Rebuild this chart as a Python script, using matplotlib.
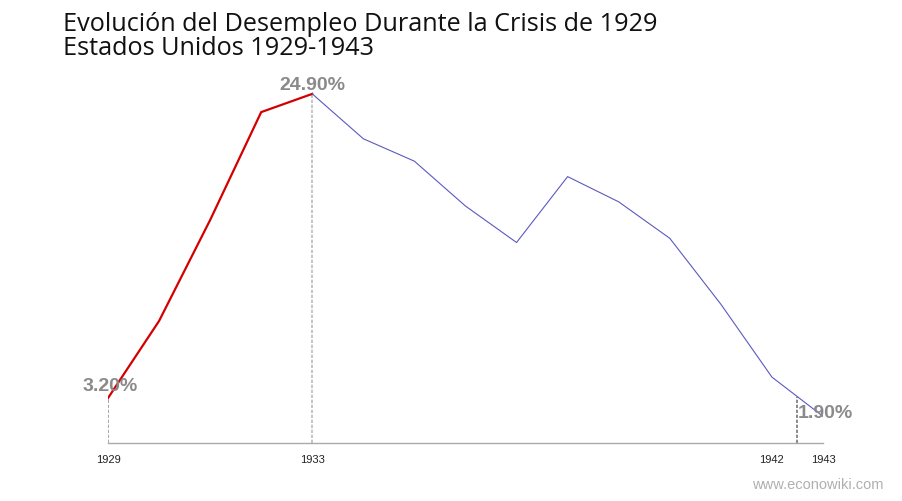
import matplotlib
matplotlib.use("Agg")
import matplotlib.pyplot as plt
import numpy as np

# Datos: tasa de desempleo en EE.UU. (%)
years = [1929, 1930, 1931, 1932, 1933, 1934, 1935, 1936,
         1937, 1938, 1939, 1940, 1941, 1942, 1943]
unemployment = [3.2, 8.7, 15.9, 23.6, 24.9, 21.7, 20.1, 16.9,
                14.3, 19.0, 17.2, 14.6, 9.9, 4.7, 1.9]
tick_years = [1929, 1933, 1942, 1943]
crisis_end = 1933
title_lines = ["Evolución del Desempleo Durante la Crisis de 1929",
               "Estados Unidos 1929-1943"]

plt.rcParams['font.family'] = ['Liberation Sans', 'DejaVu Sans']

fig = plt.figure(figsize=(9.02, 5.01), dpi=100)
ax = fig.add_axes([0.1197, 0.1158, 0.7927, 0.6996])

years_a = np.array(years)
vals_a = np.array(unemployment)
crisis = years_a <= crisis_end

# Tramo de la crisis en rojo, resto en azul
ax.plot(years_a[crisis], vals_a[crisis], color="#d40000", lw=1.6,
        solid_joinstyle="miter", zorder=3)
ax.plot(years_a[years_a >= crisis_end], vals_a[years_a >= crisis_end],
        color="#5a5ac0", lw=0.8, zorder=3)

# Líneas verticales de referencia
grey = "#9a9a9a"
ax.vlines(years[0], 0, unemployment[0], color=grey, lw=1.2,
          linestyles=(0, (2, 1)), zorder=2)
i_max = int(np.argmax(vals_a))
ax.vlines(years[i_max], 0, unemployment[i_max], color="#bbbbbb", lw=1.2,
          linestyles=(0, (2, 1)), zorder=2)
x_last = years[-1] - 0.5
ax.vlines(x_last, 0, np.interp(x_last, years, unemployment), color="#777777",
          lw=1.2, linestyles=(0, (2, 1)), zorder=2)

# Etiquetas de valores
lab = dict(color="#8a8a8a", fontsize=14, fontweight="bold")
ax.text(years[0] + 0.05, unemployment[0] + 0.25, f"{unemployment[0]:.2f}%",
        ha="center", va="bottom", **lab)
ax.text(years[i_max], unemployment[i_max] + 0.0, f"{unemployment[i_max]:.2f}%",
        ha="center", va="bottom", **lab)
ax.text(x_last + 0.01, unemployment[-1] + 0.2, f"{unemployment[-1]:.2f}%",
        ha="left", va="center", **lab)

ax.set_xlim(years[0], years[-1])
ax.set_ylim(0, 25)
ax.set_xticks(tick_years)
ax.set_xticklabels([str(y) for y in tick_years], fontsize=8, color="#222222")
ax.tick_params(axis="x", length=0, pad=9)
ax.set_yticks([])
for s in ["top", "right", "left"]:
    ax.spines[s].set_visible(False)
ax.spines["bottom"].set_color("#aaaaaa")
ax.spines["bottom"].set_linewidth(1)

# Título en dos líneas
for line, yb in zip(title_lines, [0.938, 0.890]):
    fig.text(0.0698, yb, line, ha="left", va="baseline", fontsize=18.2,
             color="#111111", family=["Open Sans", "DejaVu Sans"])
fig.text(0.98, 0.032, "www.econowiki.com", ha="right", va="center",
         fontsize=10.5, color="#b0b0b0")

fig.savefig("out.png", dpi=100)
